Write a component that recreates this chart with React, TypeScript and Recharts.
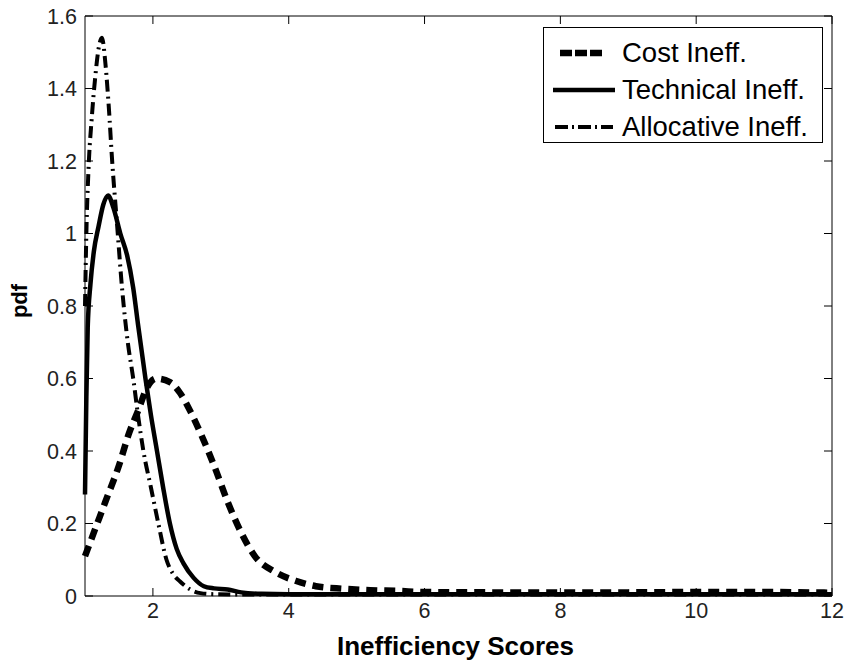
import React from "react";
import { LineChart, Line, XAxis, YAxis, Legend, Label, ReferenceDot } from "recharts";

// values
const costX = [1.0, 1.15, 1.3, 1.5, 1.65, 1.8, 1.9, 2.05, 2.25, 2.4, 2.55, 2.7, 2.9, 3.1, 3.3, 3.5, 3.8, 4.1, 4.4, 4.8, 5.2, 5.6, 6.0, 7.0, 8.0, 9.0, 10.0, 11.0, 12.0];
const costPdf = [0.11, 0.185, 0.26, 0.36, 0.45, 0.52, 0.57, 0.6, 0.59, 0.56, 0.51, 0.45, 0.36, 0.26, 0.175, 0.11, 0.066, 0.042, 0.027, 0.02, 0.016, 0.014, 0.011, 0.01, 0.01, 0.01, 0.011, 0.011, 0.009];

const techX = [1.0, 1.02, 1.04, 1.08, 1.13, 1.2, 1.27, 1.34, 1.42, 1.52, 1.62, 1.71, 1.78, 1.89, 1.97, 2.06, 2.15, 2.25, 2.35, 2.45, 2.6, 2.75, 2.9, 3.1, 3.3, 3.6, 4.0, 5.0, 6.0, 8.0, 10.0, 12.0];
const techPdf = [0.28, 0.55, 0.74, 0.86, 0.95, 1.02, 1.08, 1.105, 1.07, 1.0, 0.94, 0.85, 0.75, 0.6, 0.5, 0.4, 0.3, 0.2, 0.13, 0.09, 0.05, 0.027, 0.021, 0.018, 0.01, 0.006, 0.005, 0.005, 0.005, 0.005, 0.005, 0.005];

const allocX = [1.0, 1.02, 1.05, 1.1, 1.15, 1.2, 1.25, 1.3, 1.35, 1.4, 1.47, 1.55, 1.63, 1.71, 1.78, 1.86, 1.97, 2.08, 2.2, 2.3, 2.4, 2.55, 2.7, 2.9, 3.5, 5.0, 8.0, 12.0];
const allocPdf = [0.8, 1.0, 1.17, 1.32, 1.43, 1.51, 1.54, 1.47, 1.35, 1.2, 1.03, 0.84, 0.7, 0.6, 0.5, 0.4, 0.3, 0.2, 0.1, 0.06, 0.04, 0.018, 0.008, 0.005, 0.004, 0.004, 0.004, 0.004];

const seriesNames = ["Cost Ineff.", "Technical Ineff.", "Allocative Ineff."];
const xTicks = [2, 4, 6, 8, 10, 12];
const yTicks = [0, 0.2, 0.4, 0.6, 0.8, 1, 1.2, 1.4, 1.6];
const xMin = 1;
const xMax = 12;
const yMax = 1.6;

const FONT = '"Liberation Sans", Arial, sans-serif';
const TICK_LEN = 8;

const toPoints = (xs: number[], ys: number[]) =>
  xs.map((x, i) => ({ x, pdf: ys[i] }));

const series = [
  { name: seriesNames[0], data: toPoints(costX, costPdf), width: 6.5, dash: "11 7", legendDash: "12 3", legendX: [7, 49] },
  { name: seriesNames[1], data: toPoints(techX, techPdf), width: 4.5, dash: undefined, legendDash: undefined, legendX: [0, 62] },
  { name: seriesNames[2], data: toPoints(allocX, allocPdf), width: 4, dash: "12 5 2 5", legendDash: "13 4 2 4", legendX: [2, 60] },
];

// inward tick marks (MATLAB box style), placed through the chart scales
const tickMarks = [
  ...xTicks.map((t) => ({ key: "b" + t, x: t, y: 0, dx: 0, dy: -TICK_LEN })),
  ...xTicks.map((t) => ({ key: "t" + t, x: t, y: yMax, dx: 0, dy: TICK_LEN })),
  ...yTicks.map((t) => ({ key: "l" + t, x: xMin, y: t, dx: TICK_LEN, dy: 0 })),
  ...yTicks.map((t) => ({ key: "r" + t, x: xMax, y: t, dx: -TICK_LEN, dy: 0 })),
];

const BottomTick = (p: any) => (
  <text x={p.x} y={p.y + 7} dy="0.71em" textAnchor="middle" fontSize={21.5} fontFamily={FONT} fill="#222">
    {p.payload.value}
  </text>
);

const LeftTick = (p: any) => (
  <text x={p.x - 8} y={p.y} dy="0.355em" textAnchor="end" fontSize={21.5} fontFamily={FONT} fill="#222">
    {p.payload.value}
  </text>
);

const LegendBox = () => (
  <div
    style={{
      border: "1px solid #000",
      background: "#fff",
      width: 280,
      height: 116,
      paddingTop: 6,
      boxSizing: "border-box",
    }}
  >
    {series.map((s) => (
      <div key={s.name} style={{ display: "flex", alignItems: "center", height: 37 }}>
        <svg width={66} height={10} style={{ marginLeft: 9 }}>
          <line
            x1={s.legendX[0]}
            x2={s.legendX[1]}
            y1={5}
            y2={5}
            stroke="#000"
            strokeWidth={s.width}
            strokeDasharray={s.legendDash}
          />
        </svg>
        <span style={{ fontSize: 27.5, fontFamily: FONT, color: "#000", marginLeft: 3, lineHeight: 1 }}>
          {s.name}
        </span>
      </div>
    ))}
  </div>
);

const App: React.FC = () => {
  return (
    <div style={{ position: "absolute", left: 0, top: 0, width: 848, height: 665 }}>
      <LineChart width={848} height={665} margin={{ top: 15, right: 15, bottom: 0, left: 0 }}>
        <XAxis
          dataKey="x"
          type="number"
          domain={[xMin, xMax]}
          ticks={xTicks}
          height={69}
          tickSize={0}
          tickMargin={0}
          tickLine={false}
          axisLine={{ stroke: "#000" }}
          tick={(p: any) => <BottomTick {...p} />}
        >
          <Label
            content={(p: any) => (
              <text
                x={p.viewBox.x + p.viewBox.width / 2 - 3}
                y={p.viewBox.y + 59}
                textAnchor="middle"
                fontSize={26}
                fontWeight="bold"
                fontFamily={FONT}
                fill="#000"
              >
                Inefficiency Scores
              </text>
            )}
          />
        </XAxis>
        <XAxis
          xAxisId="top"
          orientation="top"
          type="number"
          domain={[xMin, xMax]}
          ticks={xTicks}
          height={1}
          tickLine={false}
          axisLine={{ stroke: "#000" }}
          tick={false}
        />
        <YAxis
          type="number"
          domain={[0, yMax]}
          ticks={yTicks}
          width={85}
          tickSize={0}
          tickMargin={0}
          tickLine={false}
          axisLine={{ stroke: "#000" }}
          tick={(p: any) => <LeftTick {...p} />}
        >
          <Label
            content={(p: any) => {
              const cx = p.viewBox.x + 27;
              const cy = p.viewBox.y + p.viewBox.height / 2 - 5;
              return (
                <text
                  x={cx}
                  y={cy}
                  transform={`rotate(-90 ${cx} ${cy})`}
                  textAnchor="middle"
                  fontSize={22}
                  fontWeight="bold"
                  fontFamily={FONT}
                  fill="#000"
                >
                  pdf
                </text>
              );
            }}
          />
        </YAxis>
        <YAxis
          yAxisId="right"
          orientation="right"
          type="number"
          domain={[0, yMax]}
          ticks={yTicks}
          width={1}
          tickLine={false}
          axisLine={{ stroke: "#000" }}
          tick={false}
        />
        {tickMarks.map((m) => (
          <ReferenceDot
            key={m.key}
            x={m.x}
            y={m.y}
            r={1}
            ifOverflow="visible"
            shape={(p: any) => (
              <line x1={p.cx} y1={p.cy} x2={p.cx + m.dx} y2={p.cy + m.dy} stroke="#000" strokeWidth={1} />
            )}
          />
        ))}
        <Legend
          layout="horizontal"
          verticalAlign="middle"
          align="center"
          wrapperStyle={{ top: 27, left: 543, width: 280, height: 116 }}
          content={() => <LegendBox />}
        />
        {series.map((s) => (
          <Line
            key={s.name}
            name={s.name}
            data={s.data}
            dataKey="pdf"
            type="monotone"
            stroke="#000"
            strokeWidth={s.width}
            strokeDasharray={s.dash}
            strokeLinecap="butt"
            dot={false}
            activeDot={false}
            isAnimationActive={false}
          />
        ))}
      </LineChart>
    </div>
  );
};

export default App;
